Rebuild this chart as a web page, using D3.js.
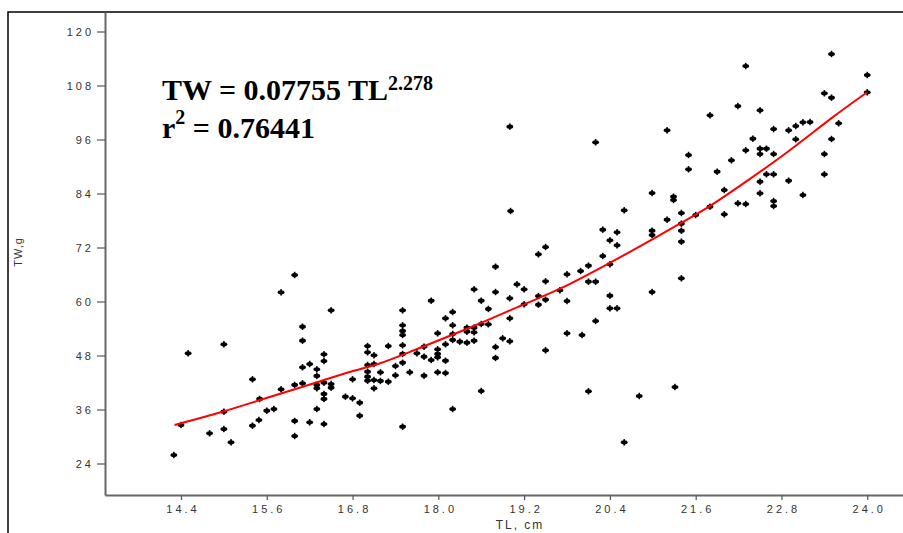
<!DOCTYPE html>
<html>
<head>
<meta charset="utf-8">
<script src="https://cdn.jsdelivr.net/npm/d3@7"></script>
<style>
  body { margin: 0; background: #fff; }
  .tick text { font-family: "Liberation Sans", Arial, sans-serif; }
</style>
</head>
<body>
<div id="chart"></div>
<script>
// TL (cm) vs TW (g) readings
const fishPoints = [
  [15.99,65.89],[15.80,62.04],[16.50,58.04],[14.50,48.49],[15.00,50.49],[16.10,54.40],[16.10,51.29],[15.40,42.71],
  [16.40,48.27],[16.40,46.78],[16.10,45.38],[16.20,46.11],[16.30,44.93],[16.30,43.45],[15.80,40.49],[15.99,41.45],
  [16.10,41.82],[16.30,41.45],[16.30,40.71],[16.40,41.96],[16.50,41.67],[16.50,40.85],[16.40,39.45],[16.40,38.34],
  [15.50,38.34],[15.60,35.73],[15.70,36.11],[15.00,35.51],[14.40,32.56],[14.80,30.71],[15.00,31.67],[15.10,28.71],
  [15.40,32.40],[15.49,33.67],[15.99,33.45],[15.99,30.11],[16.20,33.16],[16.40,32.78],[16.30,36.11],[14.30,25.89],
  [16.70,38.85],[16.80,38.49],[16.90,37.51],[16.90,34.62],[16.80,42.71],[17.01,50.11],[17.01,48.71],[17.10,48.05],
  [17.01,45.89],[17.10,46.11],[17.01,44.40],[17.01,43.29],[17.01,42.40],[17.10,42.56],[17.19,42.34],[17.30,42.18],
  [17.19,44.27],[17.30,50.11],[17.10,40.71],[17.40,45.67],[17.40,43.60],
  [19.01,80.11],[20.60,80.27],[20.30,75.96],[20.50,75.38],[20.40,73.60],[20.50,72.49],[20.30,70.11],[20.40,68.27],
  [19.50,72.11],[19.40,70.49],[20.10,67.96],[19.99,66.78],[19.80,66.05],[20.10,64.40],[20.20,64.40],[19.50,64.49],
  [18.80,67.73],[19.10,63.82],[19.20,62.71],[18.50,62.71],[18.80,62.11],[19.40,61.22],[19.70,62.49],[19.00,60.71],
  [17.90,60.18],[18.60,60.18],[19.50,60.40],[19.80,60.11],[20.40,61.29],[20.40,58.49],[20.50,58.49],[18.70,58.34],
  [19.20,59.38],[19.40,59.29],[19.00,56.27],[18.20,57.67],[18.10,56.27],[17.50,58.04],[17.50,54.71],[17.50,53.45],
  [17.50,52.56],[17.50,50.27],[17.50,48.34],[17.50,46.40],[17.60,44.27],[17.70,48.49],[17.80,49.96],[17.80,47.73],
  [17.90,47.00],[17.80,43.51],[17.99,52.93],[17.99,49.38],[17.99,48.34],[17.99,47.60],[18.10,50.49],[18.10,46.84],
  [17.99,44.27],[18.10,44.11],[18.20,54.71],[18.20,52.78],[18.20,51.45],[18.30,51.07],[18.40,50.85],[18.40,54.18],
  [18.40,53.29],[18.50,54.18],[18.50,53.16],[18.50,51.29],[18.60,55.00],[18.70,54.93],[18.80,49.89],[18.80,47.45],
  [18.90,51.82],[19.00,51.16],[18.60,40.11],[18.20,36.11],[17.50,32.18],[19.50,49.16],[19.80,52.93],[20.01,52.56],
  [20.20,55.67],[20.10,40.05],[20.60,28.71],
  [19.00,98.85],[20.20,95.38],[20.99,62.11],[20.81,39.00],[21.31,41.00],
  [23.50,115.00],[22.30,112.33],[24.00,110.33],[24.00,106.49],[23.40,106.27],[23.50,105.29],[22.19,103.44],[22.50,102.49],
  [21.80,101.38],[21.20,98.04],[23.60,99.60],[23.20,99.89],[23.10,99.82],[23.00,99.00],[22.90,98.04],[22.69,98.33],
  [23.00,96.04],[23.50,96.11],[22.40,96.18],[22.30,93.60],[22.50,93.96],[22.59,93.96],[22.50,92.78],[22.69,92.78],
  [23.40,92.78],[23.40,88.27],[21.50,92.56],[21.50,89.38],[22.10,91.38],[21.90,88.84],[22.59,88.27],[22.69,88.27],
  [22.50,86.62],[22.90,86.84],[22.50,84.04],[23.10,83.67],[22.69,82.33],[22.69,81.22],[22.19,81.82],[22.30,81.67],
  [22.00,84.78],[21.80,81.07],[22.00,79.38],[21.60,79.22],[21.40,79.67],[20.99,84.11],[21.29,83.29],[21.29,82.56],
  [21.20,78.18],[21.40,77.29],[21.40,75.73],[21.40,73.29],[20.99,75.73],[20.99,74.78],[21.40,65.16]
]

// fitted curve, as drawn
const fitTL = [14.31, 15.0, 15.5, 16.3, 16.8, 17.2, 17.46, 18.58, 19.19, 19.7, 20.4, 20.75, 21.4, 21.8, 22.22, 22.87, 23.52, 24.0]
const fitTW = [32.56, 35.5, 38.1, 42.0, 44.6, 46.2, 47.9, 55.0, 59.4, 62.6, 68.6, 71.6, 77.5, 81.1, 85.7, 92.9, 101.1, 106.5]

const xTicks = [14.4, 15.6, 16.8, 18.0, 19.2, 20.4, 21.6, 22.8, 24.0]
const yTicks = [24, 36, 48, 60, 72, 84, 96, 108, 120]

let width = 903
let height = 533

let svg = d3.select('#chart')
  .append('svg')
  .attr('width', width)
  .attr('height', height)

let xPositionScale = d3.scaleLinear().domain([13.337, 24.5]).range([105, 903])
let yPositionScale = d3.scaleLinear().domain([17, 124.333]).range([495, 12])

// outer frame (left and top edges)
svg.append('path')
  .attr('d', 'M8,533V12H903')
  .attr('fill', 'none')
  .attr('stroke', '#000')
  .attr('stroke-width', 1.5)

// axes
let xAxis = d3.axisBottom(xPositionScale)
  .tickValues(xTicks)
  .tickFormat(d3.format('.1f'))
  .tickSize(5)
  .tickSizeOuter(0)

let yAxis = d3.axisLeft(yPositionScale)
  .tickValues(yTicks)
  .tickSize(8)
  .tickSizeOuter(0)

let gx = svg.append('g')
  .attr('class', 'axis x-axis')
  .attr('transform', 'translate(0,495)')
  .call(xAxis)

let gy = svg.append('g')
  .attr('class', 'axis y-axis')
  .attr('transform', 'translate(105,0)')
  .call(yAxis)

svg.selectAll('.axis .domain').attr('stroke', '#666').attr('stroke-width', 2)
svg.selectAll('.axis .tick line').attr('stroke', '#555').attr('stroke-width', 1.2)
svg.selectAll('.axis .tick text')
  .attr('fill', '#333')
  .attr('font-size', 11)
  .attr('letter-spacing', 3)
gx.selectAll('.tick text').attr('y', 10).attr('dx', 1.5)
gy.selectAll('.tick text').attr('x', -11)

// axis titles
svg.append('text')
  .text('TL, cm')
  .attr('x', 520)
  .attr('y', 529)
  .attr('text-anchor', 'middle')
  .attr('font-family', 'Liberation Sans, Arial, sans-serif')
  .attr('font-size', 12)
  .attr('letter-spacing', 2)
  .attr('fill', '#333')

svg.append('text')
  .text('TW,g')
  .attr('transform', 'translate(22,252) rotate(-90)')
  .attr('text-anchor', 'middle')
  .attr('font-family', 'Liberation Sans, Arial, sans-serif')
  .attr('font-size', 11)
  .attr('letter-spacing', 1)
  .attr('fill', '#333')

// points: small filled blob with a vertical bar
let marks = svg.append('g')
  .selectAll('.fish')
  .data(fishPoints)
  .enter()
  .append('g')
  .attr('class', 'fish')
  .attr('transform', d => `translate(${xPositionScale(d[0])},${yPositionScale(d[1])})`)

marks.append('ellipse')
  .attr('rx', 3.4)
  .attr('ry', 2.1)
  .attr('fill', '#000')

marks.append('rect')
  .attr('x', -0.8)
  .attr('y', -3.2)
  .attr('width', 1.6)
  .attr('height', 6.4)
  .attr('fill', '#000')

// fit line
let fitLine = d3.line()
  .x(d => xPositionScale(d[0]))
  .y(d => yPositionScale(d[1]))
  .curve(d3.curveBasis)

svg.append('path')
  .datum(fitTL.map((t, i) => [t, fitTW[i]]))
  .attr('d', fitLine)
  .attr('fill', 'none')
  .attr('stroke', '#ff0000')
  .attr('stroke-width', 2)

// equation
let eq = svg.append('text')
  .attr('x', 162)
  .attr('y', 100)
  .attr('font-family', 'Liberation Serif, Times New Roman, serif')
  .attr('font-weight', 'bold')
  .attr('font-size', 30)
  .attr('fill', '#000')
eq.append('tspan').text('TW = 0.07755 TL')
eq.append('tspan').text('2.278').attr('font-size', 20).attr('dy', -10)

let r2 = svg.append('text')
  .attr('x', 162)
  .attr('y', 138)
  .attr('font-family', 'Liberation Serif, Times New Roman, serif')
  .attr('font-weight', 'bold')
  .attr('font-size', 30)
  .attr('fill', '#000')
r2.append('tspan').text('r')
r2.append('tspan').text('2').attr('font-size', 20).attr('dy', -14)
r2.append('tspan').text(' = 0.76441').attr('dy', 14)
</script>
</body>
</html>
